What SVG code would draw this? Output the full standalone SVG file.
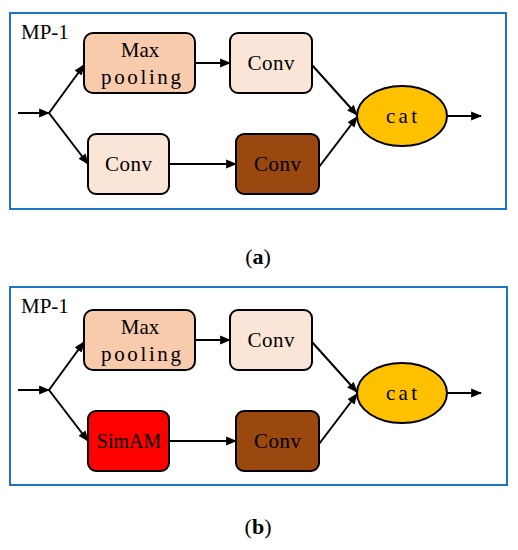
<svg xmlns="http://www.w3.org/2000/svg" width="518" height="550" viewBox="0 0 518 550">
<defs>
<style>
.frame{fill:none;stroke:#1C75C6;stroke-width:2}
.box{stroke:#000;stroke-width:2}
.t{font-family:"Liberation Serif","Times New Roman",serif;font-size:21px;fill:#000;text-anchor:middle}
.lbl{font-family:"Liberation Serif","Times New Roman",serif;font-size:21px;fill:#000}
.cap{font-family:"Liberation Serif","Times New Roman",serif;font-size:22px;fill:#000;text-anchor:middle}
.c{fill:none;stroke:#000;stroke-width:2;marker-end:url(#ah)}
</style>
<marker id="ah" viewBox="0 0 10 10" refX="9" refY="5" markerWidth="5.5" markerHeight="5.5" orient="auto" markerUnits="strokeWidth">
<path d="M0,1 L10,5 L0,9 z" fill="#000"/>
</marker>
</defs>

<g id="panel-a">
<rect class="frame" x="10" y="13" width="496" height="196"/>
<text class="lbl" x="21" y="39">MP-1</text>
<g id="a-maxpool"><rect class="box" x="84" y="33" width="111" height="60" rx="9" fill="#F8CBAD"/><text class="t" x="140" y="57">Max</text><text class="t" x="141" y="84" textLength="80" lengthAdjust="spacing">pooling</text></g>
<g id="a-conv1"><rect class="box" x="230" y="33" width="82" height="60" rx="8" fill="#FBE5D6"/><text class="t" x="271" y="70" textLength="47" lengthAdjust="spacing">Conv</text></g>
<g id="a-conv2"><rect class="box" x="88" y="134" width="81" height="60" rx="8" fill="#FBE5D6"/><text class="t" x="128.500" y="171" textLength="47" lengthAdjust="spacing">Conv</text></g>
<g id="a-conv3"><rect class="box" x="236" y="134" width="83" height="60" rx="8" fill="#9A480F"/><text class="t" x="277.500" y="171" textLength="47" lengthAdjust="spacing">Conv</text></g>
<g id="a-cat"><ellipse class="box" cx="402" cy="116" rx="45" ry="30" fill="#FFC000"/><text class="t" x="401.500" y="123" textLength="31" lengthAdjust="spacing">cat</text></g>
<g id="a-connectors">
<line class="c" x1="18" y1="113" x2="49" y2="113"/>
<line class="c" x1="49" y1="113" x2="84" y2="65"/>
<line class="c" x1="49" y1="113" x2="88" y2="164"/>
<line class="c" x1="195" y1="63" x2="230" y2="63"/>
<line class="c" x1="169" y1="164" x2="236" y2="164"/>
<line class="c" x1="312" y1="65" x2="357" y2="115"/>
<line class="c" x1="319" y1="167" x2="357" y2="117"/>
<line class="c" x1="447" y1="116" x2="481" y2="116"/>
</g>
</g>
<text class="cap" x="258" y="264">(<tspan font-weight="bold">a</tspan>)</text>

<g id="panel-b">
<rect class="frame" x="10" y="287" width="497" height="198"/>
<text class="lbl" x="21" y="313">MP-1</text>
<g id="b-maxpool"><rect class="box" x="84" y="310" width="111" height="60" rx="9" fill="#F8CBAD"/><text class="t" x="140" y="334">Max</text><text class="t" x="141" y="361" textLength="80" lengthAdjust="spacing">pooling</text></g>
<g id="b-conv1"><rect class="box" x="230" y="310" width="82" height="60" rx="8" fill="#FBE5D6"/><text class="t" x="271" y="347" textLength="47" lengthAdjust="spacing">Conv</text></g>
<g id="b-simam"><rect class="box" x="88" y="411" width="81" height="60" rx="8" fill="#FF0000"/><text class="t" x="129" y="448" style="font-size:20px">SimAM</text></g>
<g id="b-conv3"><rect class="box" x="236" y="411" width="83" height="60" rx="8" fill="#9A480F"/><text class="t" x="277.500" y="448" textLength="47" lengthAdjust="spacing">Conv</text></g>
<g id="b-cat"><ellipse class="box" cx="402" cy="393" rx="45" ry="30" fill="#FFC000"/><text class="t" x="401.500" y="400" textLength="31" lengthAdjust="spacing">cat</text></g>
<g id="b-connectors">
<line class="c" x1="18" y1="390" x2="49" y2="390"/>
<line class="c" x1="49" y1="390" x2="84" y2="342"/>
<line class="c" x1="49" y1="390" x2="88" y2="441"/>
<line class="c" x1="195" y1="340" x2="230" y2="340"/>
<line class="c" x1="169" y1="441" x2="236" y2="441"/>
<line class="c" x1="312" y1="342" x2="357" y2="392"/>
<line class="c" x1="319" y1="444" x2="357" y2="394"/>
<line class="c" x1="447" y1="393" x2="481" y2="393"/>
</g>
</g>
<text class="cap" x="258" y="534">(<tspan font-weight="bold">b</tspan>)</text>
</svg>
